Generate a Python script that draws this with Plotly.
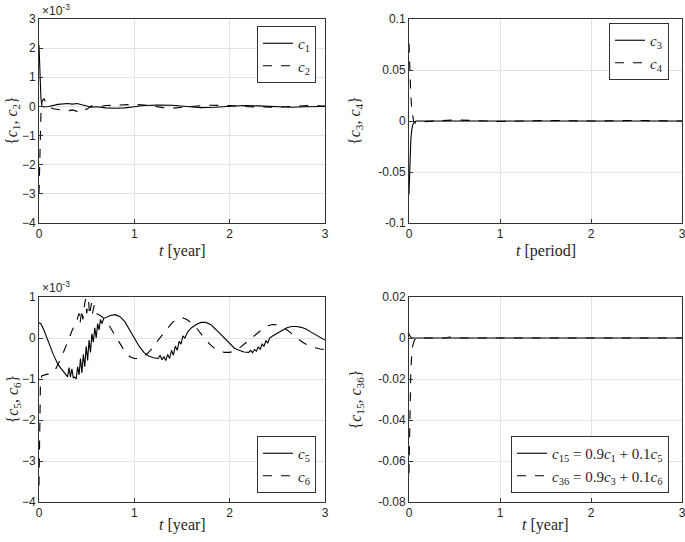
import plotly.graph_objects as go

# ---------------- data ----------------
# Panel 1 (units of 1e-3)
t_c1 = [0, 0.01, 0.02, 0.03, 0.05, 0.1, 0.2, 0.3, 0.35, 0.4, 0.45, 0.5, 0.55, 0.6, 0.7, 0.8, 0.9,
        1.0, 1.1, 1.25, 1.4, 1.55, 1.7, 1.85, 2.0, 2.15, 2.3, 2.5, 2.65, 2.8, 3.0]
c1 = [2.1, 1.0, 0.3, 0.02, -0.02, 0.0, 0.07, 0.1, 0.08, 0.1, 0.05, 0.02, -0.03, -0.01, -0.05, -0.06, -0.05,
      -0.01, 0.03, 0.05, 0.04, 0.0, -0.04, -0.03, 0.0, 0.03, 0.02, -0.02, -0.03, -0.01, 0.0]
t_c2 = [0, 0.01, 0.02, 0.03, 0.05, 0.07, 0.1, 0.15, 0.2, 0.3, 0.35, 0.4, 0.45, 0.5, 0.55, 0.6, 0.7, 0.8,
        0.9, 1.0, 1.1, 1.2, 1.3, 1.4, 1.5, 1.6, 1.75, 1.9, 2.0, 2.2, 2.4, 2.5, 2.7, 2.85, 3.0]
c2 = [-3.0, -1.5, -0.3, 0.15, 0.27, 0.15, 0.0, -0.08, -0.1, -0.15, -0.12, -0.17, -0.05, -0.1, 0.02, -0.03,
      0.03, 0.05, 0.06, 0.07, 0.05, 0.0, -0.04, -0.06, -0.04, 0.0, 0.04, 0.04, 0.03, -0.01, -0.04, -0.03,
      0.01, 0.03, 0.01]

# Panel 2
t_c3 = [0, 0.005, 0.01, 0.02, 0.03, 0.04, 0.06, 0.08, 0.3, 0.6, 1.0, 1.5, 2.0, 2.5, 3.0]
c3 = [-0.072, -0.05, -0.035, -0.018, -0.009, -0.004, -0.001, 0.0, 0.0, 0.0, -0.0003, 0.0, 0.0, 0.0, 0.0]
t_c4 = [0, 0.005, 0.01, 0.02, 0.03, 0.04, 0.05, 0.07, 0.1, 0.3, 0.5, 0.7, 1.0, 1.5, 2.0, 2.5, 3.0]
c4 = [0.076, 0.06, 0.045, 0.025, 0.012, 0.004, 0.0, -0.002, -0.001, 0.0, 0.001, 0.0005, -0.0005,
      0.0005, 0.0, 0.0005, 0.0]

# Panel 3 (units of 1e-3)
t_c5 = [0, 0.02, 0.05, 0.1, 0.15, 0.2, 0.25, 0.28, 0.30, 0.315, 0.33, 0.345, 0.36, 0.375, 0.39, 0.405,
        0.42, 0.435, 0.45, 0.465, 0.48, 0.495, 0.51, 0.525, 0.54, 0.555, 0.57, 0.585, 0.60, 0.615, 0.63,
        0.645, 0.66, 0.68, 0.70, 0.75, 0.80, 0.85, 0.9, 0.95, 1.0, 1.05, 1.1, 1.15, 1.2,
        1.25, 1.27, 1.29, 1.31, 1.33, 1.35, 1.37, 1.39, 1.41, 1.43, 1.45, 1.47, 1.49, 1.51, 1.53, 1.56,
        1.6, 1.65, 1.7, 1.75, 1.8, 1.85, 1.9, 1.95, 2.0, 2.05, 2.1, 2.15, 2.2,
        2.22, 2.24, 2.26, 2.28, 2.30, 2.32, 2.34, 2.36, 2.38, 2.40, 2.42, 2.45, 2.5, 2.55, 2.6, 2.65,
        2.7, 2.75, 2.8, 2.85, 2.9, 2.95, 3.0]
c5 = [0.37, 0.35, 0.2, -0.1, -0.4, -0.65, -0.8, -0.88, -0.95, -0.72, -0.95, -0.75, -0.98, -0.95, -1.0, -0.7,
      -0.9, -0.5, -0.85, -0.4, -0.7, -0.2, -0.55, -0.05, -0.35, 0.1, -0.1, 0.25, 0.0, 0.35, 0.2,
      0.45, 0.35, 0.48, 0.5, 0.55, 0.57, 0.52, 0.4, 0.2, 0.0, -0.2, -0.35, -0.44, -0.48,
      -0.5, -0.42, -0.53, -0.45, -0.55, -0.4, -0.5, -0.3, -0.42, -0.2, -0.3, -0.08, -0.15, 0.05, 0.0, 0.15,
      0.25, 0.33, 0.38, 0.38, 0.33, 0.22, 0.1, -0.02, -0.15, -0.25, -0.3, -0.34, -0.35,
      -0.3, -0.36, -0.28, -0.32, -0.22, -0.28, -0.15, -0.2, -0.07, -0.12, 0.0, 0.05, 0.12, 0.2, 0.25, 0.28,
      0.28, 0.26, 0.22, 0.15, 0.08, 0.02, -0.05]
t_c6 = [0, 0.005, 0.01, 0.015, 0.03, 0.06, 0.1, 0.14, 0.17, 0.2, 0.23, 0.26, 0.29, 0.32, 0.35, 0.38,
        0.4, 0.42, 0.43, 0.45, 0.46, 0.48, 0.49, 0.50, 0.52, 0.53, 0.55, 0.56, 0.58, 0.59, 0.62, 0.66,
        0.7, 0.75, 0.8, 0.85, 0.9, 0.95, 1.0, 1.05, 1.1, 1.15, 1.2, 1.25, 1.3, 1.35, 1.4, 1.45, 1.5,
        1.55, 1.6, 1.65, 1.7, 1.75, 1.8, 1.85, 1.9, 1.95, 2.0, 2.05, 2.1, 2.15, 2.2, 2.25, 2.3, 2.35,
        2.4, 2.45, 2.5, 2.55, 2.6, 2.65, 2.7, 2.75, 2.8, 2.85, 2.9, 2.95, 3.0]
c6 = [-3.6, -2.5, -1.6, -1.1, -0.92, -0.9, -0.88, -0.85, -0.78, -0.65, -0.5, -0.33, -0.15, 0.05, 0.2, 0.35,
      0.45, 0.6, 0.35, 0.7, 0.45, 0.85, 0.95, 0.6, 0.9, 0.55, 0.85, 0.6, 0.8, 0.6, 0.58, 0.52,
      0.42, 0.25, 0.05, -0.15, -0.33, -0.45, -0.5, -0.5, -0.45, -0.35, -0.22, -0.05, 0.1, 0.25, 0.38, 0.46, 0.5,
      0.45, 0.37, 0.25, 0.1, -0.05, -0.17, -0.27, -0.33, -0.35, -0.35, -0.32, -0.25, -0.15, -0.05, 0.05, 0.15, 0.23,
      0.3, 0.33, 0.32, 0.27, 0.2, 0.1, 0.0, -0.08, -0.15, -0.2, -0.24, -0.27, -0.28]

# Panel 4
t_c15 = [0, 0.01, 0.03, 0.5, 1.0, 2.0, 3.0]
c15 = [0.0022, 0.001, 0.0, 0.0, 0.0, 0.0, 0.0]
t_c36 = [0, 0.005, 0.01, 0.02, 0.03, 0.04, 0.06, 0.08, 0.4, 0.45, 0.5, 1.0, 2.0, 3.0]
c36 = [-0.066, -0.045, -0.032, -0.016, -0.008, -0.004, -0.001, 0.0, 0.0, 0.0005, 0.0, 0.0, 0.0, 0.0]

# tick labels
x_ticks = [0, 1, 2, 3]
y1_ticks = [-4, -3, -2, -1, 0, 1, 2, 3]
y2_ticks = [-0.1, -0.05, 0, 0.05, 0.1]
y2_text = ["-0.1", "-0.05", "0", "0.05", "0.1"]
y3_ticks = [-4, -3, -2, -1, 0, 1]
y4_ticks = [-0.08, -0.06, -0.04, -0.02, 0, 0.02]
y4_text = ["-0.08", "-0.06", "-0.04", "-0.02", "0", "0.02"]

# ---------------- figure ----------------
W, H = 685, 542
SERIF = "Liberation Serif, DejaVu Serif, serif"
SANS = "Liberation Sans, Arial, Helvetica, sans-serif"
TXT = "#262626"

fig = go.Figure()

def line(x, y, name, dash, ax, leg):
    fig.add_trace(go.Scatter(x=x, y=y, mode="lines", name=name,
                             line=dict(color="black", width=1.1, dash=dash),
                             xaxis="x" + ax, yaxis="y" + ax, legend=leg))

line(t_c1, c1, "<i>c</i><sub>1</sub>", "solid", "", "legend")
line(t_c2, c2, "<i>c</i><sub>2</sub>", "dash", "", "legend")
line(t_c3, c3, "<i>c</i><sub>3</sub>", "solid", "2", "legend2")
line(t_c4, c4, "<i>c</i><sub>4</sub>", "dash", "2", "legend2")
line(t_c5, c5, "<i>c</i><sub>5</sub>", "solid", "3", "legend3")
line(t_c6, c6, "<i>c</i><sub>6</sub>", "dash", "3", "legend3")
line(t_c15, c15, "<i>c</i><sub>15</sub> = 0.9<i>c</i><sub>1</sub> + 0.1<i>c</i><sub>5</sub>", "solid", "4", "legend4")
line(t_c36, c36, "<i>c</i><sub>36</sub> = 0.9<i>c</i><sub>3</sub> + 0.1<i>c</i><sub>6</sub>", "dash", "4", "legend4")

# pixel geometry of plot areas
xl = (39, 325)
xr = (409, 682)
yt = (19, 223)
yb = (297, 502)

def xd(p):
    return [p[0] / W, p[1] / W]

def yd(p):
    return [1 - p[1] / H, 1 - p[0] / H]

axcommon = dict(showline=True, mirror=True, linecolor="#333333", linewidth=1,
                showgrid=True, gridcolor="#e3e3e3", gridwidth=1, zeroline=False,
                ticks="inside", ticklen=4, tickcolor="#333333", ticklabeloverflow="allow",
                tickfont=dict(family=SANS, size=12, color=TXT), automargin=False)

lay = dict(
    width=W, height=H, margin=dict(l=0, r=0, t=0, b=0),
    paper_bgcolor="white", plot_bgcolor="white", showlegend=True,
    xaxis=dict(domain=xd(xl), range=[0, 3], tickvals=x_ticks, anchor="y", **axcommon),
    yaxis=dict(domain=yd(yt), range=[-4, 3], tickvals=y1_ticks, anchor="x", **axcommon),
    xaxis2=dict(domain=xd(xr), range=[0, 3], tickvals=x_ticks, anchor="y2", **axcommon),
    yaxis2=dict(domain=yd(yt), range=[-0.1, 0.1], tickvals=y2_ticks, ticktext=y2_text, anchor="x2", **axcommon),
    xaxis3=dict(domain=xd(xl), range=[0, 3], tickvals=x_ticks, anchor="y3", **axcommon),
    yaxis3=dict(domain=yd(yb), range=[-4, 1], tickvals=y3_ticks, anchor="x3", **axcommon),
    xaxis4=dict(domain=xd(xr), range=[0, 3], tickvals=x_ticks, anchor="y4", **axcommon),
    yaxis4=dict(domain=yd(yb), range=[-0.08, 0.02], tickvals=y4_ticks, ticktext=y4_text, anchor="x4", **axcommon),
)

legcommon = dict(bgcolor="white", bordercolor="#333333", borderwidth=1,
                 font=dict(family=SERIF, size=15, color=TXT),
                 itemwidth=30, tracegroupgap=0)
lay["legend"] = dict(x=316 / W, y=1 - 26 / H, xanchor="right", yanchor="top", **legcommon)
lay["legend2"] = dict(x=669 / W, y=1 - 23 / H, xanchor="right", yanchor="top", **legcommon)
lay["legend3"] = dict(x=316 / W, y=1 - 493 / H, xanchor="right", yanchor="bottom", **legcommon)
lay["legend4"] = dict(x=669 / W, y=1 - 493 / H, xanchor="right", yanchor="bottom", **legcommon)
fig.update_layout(**lay)

def ann(text, px, py, size=16, family=SERIF, angle=0, xanchor="center", yanchor="middle"):
    fig.add_annotation(text=text, x=px / W, y=1 - py / H, xref="paper", yref="paper",
                       showarrow=False, textangle=angle, xanchor=xanchor, yanchor=yanchor,
                       font=dict(family=family, size=size, color=TXT))

# axis titles
ann("<i>t</i> [year]", (xl[0] + xl[1]) / 2, 251)
ann("<i>t</i> [period]", (xr[0] + xr[1]) / 2, 251)
ann("<i>t</i> [year]", (xl[0] + xl[1]) / 2, 525)
ann("<i>t</i> [year]", (xr[0] + xr[1]) / 2, 525)
ann("{<i>c</i><sub>1</sub>, <i>c</i><sub>2</sub>}", 13, (yt[0] + yt[1]) / 2, angle=-90)
ann("{<i>c</i><sub>3</sub>, <i>c</i><sub>4</sub>}", 356, (yt[0] + yt[1]) / 2, angle=-90)
ann("{<i>c</i><sub>5</sub>, <i>c</i><sub>6</sub>}", 13, (yb[0] + yb[1]) / 2, angle=-90)
ann("{<i>c</i><sub>15</sub>, <i>c</i><sub>36</sub>}", 356, (yb[0] + yb[1]) / 2, angle=-90)

# exponent labels
ann("\u00d710<sup>-3</sup>", 40, 10, size=12, family=SANS, xanchor="left")
ann("\u00d710<sup>-3</sup>", 40, 287, size=12, family=SANS, xanchor="left")

fig.write_html("out.html", config={"displayModeBar": False},
               post_script="document.body.style.margin='0px';document.body.style.overflow='hidden';")
